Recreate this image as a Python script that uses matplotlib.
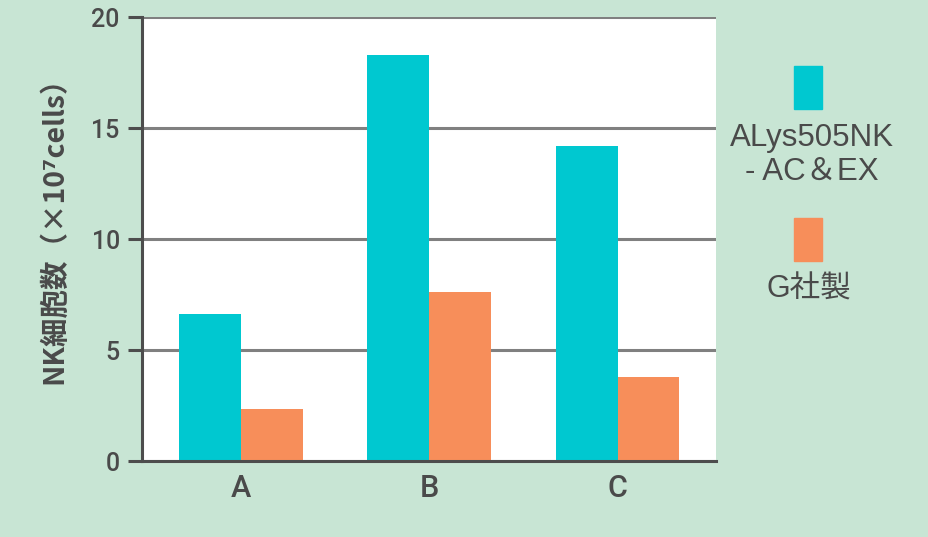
import matplotlib
matplotlib.use("Agg")
import matplotlib.pyplot as plt
from matplotlib.patches import Rectangle
import numpy as np

# data
groups = ["A", "B", "C"]
alys_vals = [6.6, 18.3, 14.2]
g_vals = [2.35, 7.6, 3.8]
series_names = ["ALys505NK\n- AC＆EX", "G社製"]
y_ticks = [0, 5, 10, 15, 20]

bg = "#c8e5d4"
cyan = "#00c8d0"
orange = "#f78e5a"
txt = "#4a4a4a"

plt.rcParams['font.family'] = ['Noto Sans CJK JP', 'DejaVu Sans']

fig = plt.figure(figsize=(9.29, 5.37), dpi=100, facecolor=bg)
ax = fig.add_axes([0.1529, 0.1415, 0.6178, 0.8268])
ax.set_facecolor("white")

x = np.arange(len(groups))
w = 0.329
ax.bar(x - w / 2, alys_vals, width=w, color=cyan, zorder=3)
ax.bar(x + w / 2, g_vals, width=w, color=orange, zorder=3)

ax.set_xlim(-0.526, 2.523)
ax.set_ylim(0, 20)
ax.set_yticks(y_ticks)
ax.yaxis.grid(True, color="#808080", linewidth=2.2, zorder=1)
ax.set_axisbelow(True)

for s in ["top", "right"]:
    ax.spines[s].set_visible(False)
for s in ["left", "bottom"]:
    ax.spines[s].set_color("#4d4d4d")
    ax.spines[s].set_linewidth(2.2)
ax.spines["left"].set_zorder(4)
ax.spines["bottom"].set_zorder(4)

ax.set_xticks(x)
ax.set_xticklabels(groups, fontfamily="Roboto", fontsize=22, color=txt,
                   fontweight="medium")
ax.tick_params(axis="x", length=0, pad=9)
ax.tick_params(axis="y", length=10, width=2.2, color="#4d4d4d",
               labelsize=18, labelcolor=txt, pad=6)
for lab in ax.get_yticklabels():
    lab.set_fontfamily("Roboto")
    lab.set_fontweight("medium")

fig.text(0.058, 0.585, "NK細胞数（×10⁷cells）", rotation=90, ha="center",
         va="center", fontsize=20.5, color=txt, fontweight="bold")

# legend on the right
sq_w, sq_h = 28 / 929, 43 / 537
for cx, cy, col in [(808, 87, cyan), (808, 239, orange)]:
    fig.patches.append(Rectangle((cx / 929 - sq_w / 2, 1 - cy / 537 - sq_h / 2),
                                 sq_w, sq_h, transform=fig.transFigure,
                                 color=col))
leg_font = ['Liberation Sans', 'Noto Sans CJK JP']
fig.text(812 / 929, 1 - 155 / 537, series_names[0], ha="center", va="center",
         fontsize=22.5, color=txt, family=leg_font, linespacing=1.15)
fig.text(809 / 929, 1 - 290 / 537, series_names[1], ha="center", va="center",
         fontsize=22, color=txt, family=leg_font)

fig.savefig("out.png", dpi=100, facecolor=bg)
